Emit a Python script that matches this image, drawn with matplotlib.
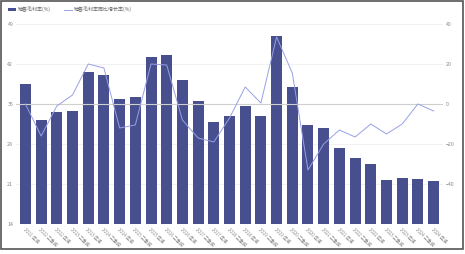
import matplotlib.pyplot as plt
import numpy as np
from matplotlib.patches import Rectangle

plt.rcParams['font.family'] = ['Noto Sans CJK SC', 'DejaVu Sans']

# 报告期
periods = ['2011 年报', '2012 三季报', '2012 年报', '2013 三季报', '2013 年报', '2014 三季报',
           '2014 年报', '2015 三季报', '2015 年报', '2016 三季报', '2016 年报', '2017 三季报',
           '2017 年报', '2018 三季报', '2018 年报', '2019 三季报', '2019 年报', '2020 三季报',
           '2020 年报', '2021 三季报', '2021 年报', '2022 三季报', '2022 年报', '2023 三季报',
           '2023 年报', '2024 三季报', '2024 年报']
# 销售毛利率(%)
margin = [38.5, 32.2, 33.6, 33.8, 40.6, 40.1, 35.9, 36.3, 43.2, 43.6, 39.2, 35.5, 31.9, 32.9,
          34.7, 32.9, 46.9, 38.0, 31.3, 30.8, 27.3, 25.6, 24.5, 21.7, 22.0, 21.9, 21.5]
# 销售毛利率同比增长率(%)
growth = [0, -16, -1, 4.5, 20, 18, -12, -10.5, 20, 19.5, -8, -17, -19, -7,
          8.5, 0.5, 33.5, 15.5, -33, -20, -13, -16.5, -10, -15, -10, 0, -3.5]

bar_c = '#474f8f'
line_c = '#97a1e4'

fig = plt.figure(figsize=(4.65, 2.54), dpi=100)
ax = fig.add_axes([16/465, 30/254, 427/465, 200/254])
ax2 = ax.twinx()

x = np.arange(len(periods))
ax.bar(x, margin, width=0.7, color=bar_c, zorder=2, label='销售毛利率(%)')
ax.set_ylim(14, 49)
ax.set_yticks([14, 21, 28, 35, 42, 49])
ax.set_xlim(-0.6, len(periods) - 0.4)
ax.set_xticks(x)
ax.set_xticklabels(periods, rotation=-45, ha='left', rotation_mode='anchor', fontsize=3.2, color='#888888')
ax.grid(axis='y', color='#ececec', lw=0.5, zorder=0)
ax.tick_params(axis='y', labelsize=3.8, colors='#888888', length=0, pad=2)
ax.tick_params(axis='x', length=0, pad=2)

ax2.plot(x, growth, color=line_c, lw=0.7, zorder=3, label='销售毛利率同比增长率(%)')
ax2.axhline(0, color='#cfcfcf', lw=0.8, zorder=1)
ax2.set_ylim(-60, 40)
ax2.set_yticks([-40, -20, 0, 20, 40])
ax2.tick_params(axis='y', labelsize=3.8, colors='#888888', length=0, pad=2)

for a in (ax, ax2):
    for s in a.spines.values():
        s.set_visible(False)
ax2.set_zorder(ax.get_zorder() + 1)
ax2.patch.set_visible(False)

h1, l1 = ax.get_legend_handles_labels()
h2, l2 = ax2.get_legend_handles_labels()
fig.legend(h1 + h2, l1 + l2, loc='upper left', bbox_to_anchor=(3/465, 1 - 2/254), ncol=2,
           frameon=False, fontsize=3.6, labelcolor='#666666', handlelength=1.6, handleheight=0.6,
           columnspacing=2.5, handletextpad=0.5)

# 外框
fig.patches.append(Rectangle((0.002, 0.02), 0.994, 0.978, transform=fig.transFigure,
                             fill=False, ec='#555555', lw=1.2))

fig.savefig('out.png', dpi=100)
